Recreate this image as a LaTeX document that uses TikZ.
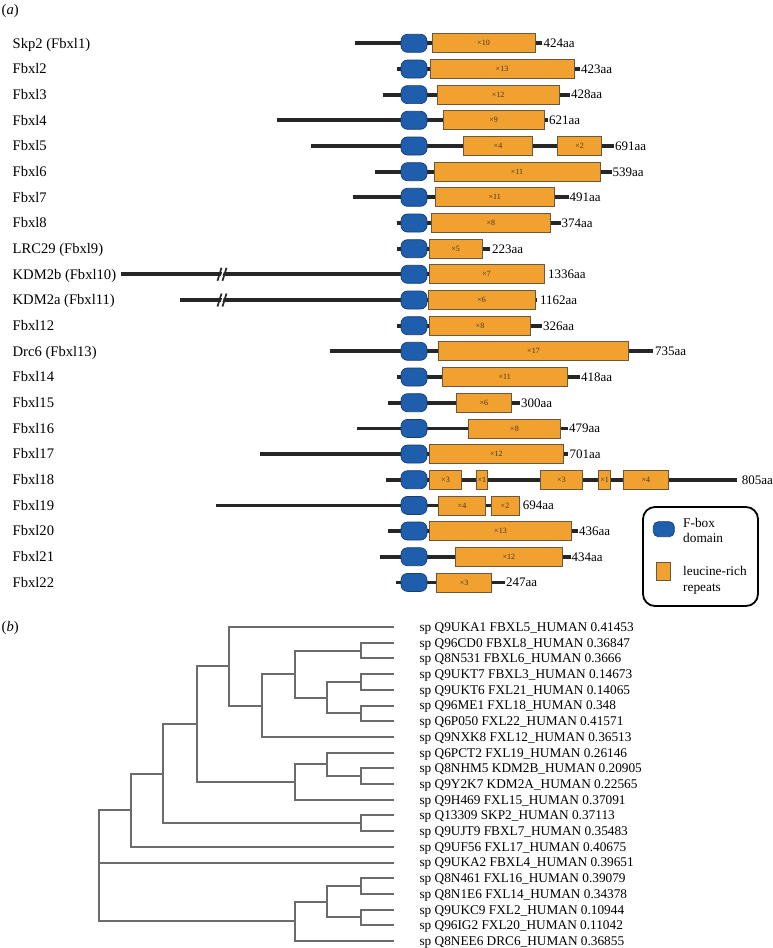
\documentclass[tikz,border=0pt]{standalone}
\usepackage{fontspec}
\setmainfont{Liberation Serif}
\definecolor{fbblue}{RGB}{30,94,172}
\definecolor{fbedge}{RGB}{22,62,115}
\definecolor{lrrorange}{RGB}{240,161,48}
\definecolor{lrredge}{RGB}{105,88,62}
\definecolor{barc}{RGB}{38,38,38}
\definecolor{xcol}{RGB}{70,52,28}
\definecolor{treegray}{RGB}{108,108,108}
\newcommand\namefnt{\fontsize{14.6}{16}\selectfont}
\newcommand\aafnt{\fontsize{13}{15}\selectfont}
\newcommand\treefnt{\fontsize{13.3}{15}\selectfont}
\newcommand\xfnt{\fontsize{8}{9}\selectfont}
\tikzset{
  backbone/.style={line width=3.8pt, draw=barc},
  fboxn/.style={rounded corners=6.5pt, fill=fbblue, draw=fbedge, line width=0.7pt, minimum width=26pt, minimum height=18pt, inner sep=0pt},
  lrr/.style={fill=lrrorange, draw=lrredge, line width=0.8pt, minimum height=19pt, inner sep=0pt, font=\xfnt, text=xcol},
  rowname/.style={anchor=west, inner sep=0pt, font=\namefnt, text height=9.6pt, text depth=0pt},
  aalab/.style={anchor=west, inner sep=0pt, font=\aafnt, text height=8.6pt, text depth=0pt},
  treelab/.style={anchor=west, inner sep=0pt, font=\treefnt, text height=8.8pt, text depth=0pt},
  tree/.style={draw=treegray, line width=2pt, line cap=rect},
  legendbox/.style={draw=black, line width=1.8pt, rounded corners=12pt, minimum width=115pt, minimum height=99pt, inner sep=0pt},
}
% #1 index, #2 y, #3 start x, #4 end x, #5 name, #6 length label, #7 label x
\newcommand\fbxProtRow[7]{%
  \draw[backbone] (#3,#2) -- (#4,#2);
  \node[fboxn] (fb#1) at (414,#2) {};
  \node[rowname] (nm#1) at (12.5,#2) {#5};
  \node[aalab] (aa#1) at (#7,#2) {#6};
}
% #1 name, #2 x1, #3 x2, #4 y, #5 count
\newcommand\fbxLrr[5]{%
  \node[lrr, minimum width={(#3-#2)*1pt}] (#1) at ({(#2+#3)/2},#4) {×#5};
}
\newcommand\fbxBreak[1]{%
  \fill[white] (219.5,#1+6) -- (223.5,#1-6) -- (225,#1-6) -- (221,#1+6) -- cycle;
  \draw[barc, line width=1.7pt] (217.5,#1+6.5) -- (221.5,#1-6.5) (222.5,#1+6.5) -- (226.5,#1-6.5);
}
\begin{document}
\begin{tikzpicture}[x=1pt,y=-1pt]
\useasboundingbox (0,0) rectangle (773,948);
\fill[white] (0,0) rectangle (773,948);

% ---------------- panel (a) ----------------
\node[rowname] (pa) at (1.5,10) {(\textit{a})};

\fbxProtRow{0}{43.3}{355}{542}{Skp2 (Fbxl1)}{424aa}{543.5}
\fbxLrr{r0a}{432}{535}{43.3}{10}

\fbxProtRow{1}{69.0}{396.7}{580}{Fbxl2}{423aa}{581}
\fbxLrr{r1a}{430}{574}{69.0}{13}

\fbxProtRow{2}{94.6}{382.7}{570}{Fbxl3}{428aa}{571}
\fbxLrr{r2a}{437.3}{559}{94.6}{12}

\fbxProtRow{3}{120.3}{276.7}{548}{Fbxl4}{621aa}{549}
\fbxLrr{r3a}{443.3}{544}{120.3}{9}

\fbxProtRow{4}{146.0}{310.7}{614}{Fbxl5}{691aa}{615}
\fbxLrr{r4a}{463.3}{532.7}{146.0}{4}
\fbxLrr{r4b}{557.3}{601.7}{146.0}{2}

\fbxProtRow{5}{171.7}{375}{611.7}{Fbxl6}{539aa}{612.5}
\fbxLrr{r5a}{434}{600}{171.7}{11}

\fbxProtRow{6}{197.3}{352.7}{568.7}{Fbxl7}{491aa}{569.5}
\fbxLrr{r6a}{435}{554.3}{197.3}{11}

\fbxProtRow{7}{223.0}{396.7}{560.7}{Fbxl8}{374aa}{561.5}
\fbxLrr{r7a}{431.7}{550}{223.0}{8}

\fbxProtRow{8}{248.7}{397.3}{490}{LRC29 (Fbxl9)}{223aa}{492}
\fbxLrr{r8a}{429}{482.3}{248.7}{5}

\fbxProtRow{9}{274.3}{120.7}{544}{KDM2b (Fbxl10)}{1336aa}{548}
\fbxLrr{r9a}{429.3}{544}{274.3}{7}
\fbxBreak{274.3}

\fbxProtRow{10}{300.0}{180}{536.7}{KDM2a (Fbxl11)}{1162aa}{540}
\fbxLrr{r10a}{428.3}{535}{300.0}{6}
\fbxBreak{300.0}

\fbxProtRow{11}{325.7}{396.7}{541.7}{Fbxl12}{326aa}{543}
\fbxLrr{r11a}{429.3}{530.7}{325.7}{8}

\fbxProtRow{12}{351.3}{330}{653.3}{Drc6 (Fbxl13)}{735aa}{655}
\fbxLrr{r12a}{438.7}{628.3}{351.3}{17}

\fbxProtRow{13}{377.0}{396.7}{580}{Fbxl14}{418aa}{581}
\fbxLrr{r13a}{442.3}{567.3}{377.0}{11}

\fbxProtRow{14}{402.7}{387.7}{520}{Fbxl15}{300aa}{521}
\fbxLrr{r14a}{456}{511.7}{402.7}{6}

\fbxProtRow{15}{428.4}{357.3}{567.7}{Fbxl16}{479aa}{569}
\fbxLrr{r15a}{468.3}{560.7}{428.4}{8}

\fbxProtRow{16}{454.0}{260}{568.3}{Fbxl17}{701aa}{569.5}
\fbxLrr{r16a}{429.3}{563.3}{454.0}{12}

\fbxProtRow{17}{479.7}{385.7}{736.7}{Fbxl18}{805aa}{741.7}
\fbxLrr{r17a}{429.3}{461.7}{479.7}{3}
\fbxLrr{r17b}{476}{487.7}{479.7}{1}
\fbxLrr{r17c}{540.7}{582.3}{479.7}{3}
\fbxLrr{r17d}{598.3}{610.7}{479.7}{1}
\fbxLrr{r17e}{623.3}{668.3}{479.7}{4}

\fbxProtRow{18}{505.4}{216}{519}{Fbxl19}{694aa}{522.7}
\fbxLrr{r18a}{438.3}{485.7}{505.4}{4}
\fbxLrr{r18b}{491}{519}{505.4}{2}

\fbxProtRow{19}{531.0}{387.7}{577.7}{Fbxl20}{436aa}{579}
\fbxLrr{r19a}{429.3}{571.7}{531.0}{13}

\fbxProtRow{20}{556.7}{380}{570.7}{Fbxl21}{434aa}{571.5}
\fbxLrr{r20a}{455}{562.7}{556.7}{12}

\fbxProtRow{21}{582.4}{396}{505}{Fbxl22}{247aa}{506}
\fbxLrr{r21a}{436.7}{491.7}{582.4}{3}

% legend
\node[legendbox] (legend) at (700.5,556.5) {};
\node[fboxn, minimum width=21pt, minimum height=15pt, rounded corners=5pt] (lgf) at (663.8,529.2) {};
\node[lrr, minimum width=14.7pt, minimum height=17.3pt] (lgl) at (663.3,571.3) {};
\node[treelab] (lgt1) at (683,523) {F-box};
\node[treelab] (lgt2) at (683,538.5) {domain};
\node[treelab] (lgt3) at (683,570.7) {leucine-rich};
\node[treelab] (lgt4) at (683,586.7) {repeats};

% ---------------- panel (b) ----------------
\node[rowname] (pb) at (1.5,627) {(\textit{b})};

% leaves
\coordinate (l0) at (393,627.0);
\coordinate (l1) at (393,642.7);
\coordinate (l2) at (393,658.4);
\coordinate (l3) at (393,674.1);
\coordinate (l4) at (393,689.8);
\coordinate (l5) at (393,705.5);
\coordinate (l6) at (393,721.2);
\coordinate (l7) at (393,736.9);
\coordinate (l8) at (393,752.6);
\coordinate (l9) at (393,768.3);
\coordinate (l10) at (393,784.0);
\coordinate (l11) at (393,799.7);
\coordinate (l12) at (393,815.4);
\coordinate (l13) at (393,831.1);
\coordinate (l14) at (393,846.8);
\coordinate (l15) at (393,862.5);
\coordinate (l16) at (393,878.2);
\coordinate (l17) at (393,893.9);
\coordinate (l18) at (393,909.6);
\coordinate (l19) at (393,925.3);
\coordinate (l20) at (393,941.0);

\node[treelab] (t0) at (419.3,627.0) {sp Q9UKA1 FBXL5\_HUMAN 0.41453};
\node[treelab] (t1) at (419.3,642.7) {sp Q96CD0 FBXL8\_HUMAN 0.36847};
\node[treelab] (t2) at (419.3,658.4) {sp Q8N531 FBXL6\_HUMAN 0.3666};
\node[treelab] (t3) at (419.3,674.1) {sp Q9UKT7 FBXL3\_HUMAN 0.14673};
\node[treelab] (t4) at (419.3,689.8) {sp Q9UKT6 FXL21\_HUMAN 0.14065};
\node[treelab] (t5) at (419.3,705.5) {sp Q96ME1 FXL18\_HUMAN 0.348};
\node[treelab] (t6) at (419.3,721.2) {sp Q6P050 FXL22\_HUMAN 0.41571};
\node[treelab] (t7) at (419.3,736.9) {sp Q9NXK8 FXL12\_HUMAN 0.36513};
\node[treelab] (t8) at (419.3,752.6) {sp Q6PCT2 FXL19\_HUMAN 0.26146};
\node[treelab] (t9) at (419.3,768.3) {sp Q8NHM5 KDM2B\_HUMAN 0.20905};
\node[treelab] (t10) at (419.3,784.0) {sp Q9Y2K7 KDM2A\_HUMAN 0.22565};
\node[treelab] (t11) at (419.3,799.7) {sp Q9H469 FXL15\_HUMAN 0.37091};
\node[treelab] (t12) at (419.3,815.4) {sp Q13309 SKP2\_HUMAN 0.37113};
\node[treelab] (t13) at (419.3,831.1) {sp Q9UJT9 FBXL7\_HUMAN 0.35483};
\node[treelab] (t14) at (419.3,846.8) {sp Q9UF56 FXL17\_HUMAN 0.40675};
\node[treelab] (t15) at (419.3,862.5) {sp Q9UKA2 FBXL4\_HUMAN 0.39651};
\node[treelab] (t16) at (419.3,878.2) {sp Q8N461 FXL16\_HUMAN 0.39079};
\node[treelab] (t17) at (419.3,893.9) {sp Q8N1E6 FXL14\_HUMAN 0.34378};
\node[treelab] (t18) at (419.3,909.6) {sp Q9UKC9 FXL2\_HUMAN 0.10944};
\node[treelab] (t19) at (419.3,925.3) {sp Q96IG2 FXL20\_HUMAN 0.11042};
\node[treelab] (t20) at (419.3,941.0) {sp Q8NEE6 DRC6\_HUMAN 0.36855};

% internal nodes
\coordinate (D) at (360.7,650.55);
\coordinate (F) at (360.7,681.95);
\coordinate (G) at (360.7,713.35);
\coordinate (E) at (327.3,697.65);
\coordinate (C) at (294.7,674.1);
\coordinate (B) at (262,705.5);
\coordinate (A) at (229,666.25);
\coordinate (K) at (360.7,776.15);
\coordinate (J) at (327.3,764.4);
\coordinate (I) at (294.7,782.05);
\coordinate (H) at (196.7,724.15);
\coordinate (M) at (360.7,823.25);
\coordinate (L) at (163.3,773.7);
\coordinate (N) at (130.7,810.25);
\coordinate (Q) at (360.7,886.05);
\coordinate (S) at (360.7,917.45);
\coordinate (P) at (327.3,901.75);
\coordinate (O) at (294.7,921.4);
\coordinate (R) at (98.7,862.5);

\draw[tree] (D) |- (l1) (D) |- (l2);
\draw[tree] (F) |- (l3) (F) |- (l4);
\draw[tree] (G) |- (l5) (G) |- (l6);
\draw[tree] (E) |- (F) (E) |- (G);
\draw[tree] (C) |- (D) (C) |- (E);
\draw[tree] (B) |- (C) (B) |- (l7);
\draw[tree] (A) |- (l0) (A) |- (B);
\draw[tree] (K) |- (l9) (K) |- (l10);
\draw[tree] (J) |- (l8) (J) |- (K);
\draw[tree] (I) |- (J) (I) |- (l11);
\draw[tree] (H) |- (A) (H) |- (I);
\draw[tree] (M) |- (l12) (M) |- (l13);
\draw[tree] (L) |- (H) (L) |- (M);
\draw[tree] (N) |- (L) (N) |- (l14);
\draw[tree] (Q) |- (l16) (Q) |- (l17);
\draw[tree] (S) |- (l18) (S) |- (l19);
\draw[tree] (P) |- (Q) (P) |- (S);
\draw[tree] (O) |- (P) (O) |- (l20);
\draw[tree] (R) |- (N) (R) |- (l15) (R) |- (O);
\end{tikzpicture}
\end{document}
